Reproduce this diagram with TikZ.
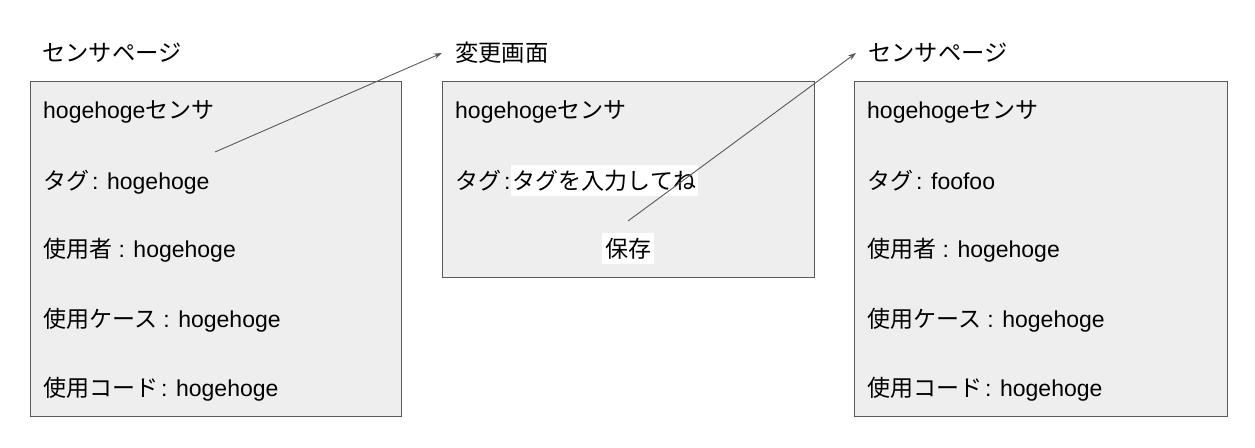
\documentclass[tikz,border=0pt]{standalone}
\usepackage{fontspec}
\setmainfont{Liberation Sans}
\newfontfamily\cjk{Noto Sans CJK JP}
\usetikzlibrary{arrows.meta}
\newcommand\jp[1]{{\cjk #1}}
\newcommand\nsp{\hspace{3pt}}
\definecolor{boxfill}{HTML}{EEEEEE}
\definecolor{boxline}{HTML}{595959}
\begin{document}
\begin{tikzpicture}[x=1pt,y=-1pt,
  font=\fontsize{23}{27}\selectfont,
  panel/.style={draw=boxline, fill=boxfill, line width=1pt, anchor=north west, inner sep=0pt},
  txt/.style={anchor=base west, inner sep=0pt},
  ttl/.style={anchor=base west, inner sep=0pt, font=\fontsize{23.3}{27}\selectfont},
  hl/.style={fill=white, inner xsep=1.5pt, inner ysep=5pt},
  conn/.style={draw=boxline, line width=0.9pt, -{Stealth[length=8pt,width=5.5pt]}}]
\useasboundingbox (0,0) rectangle (1255,447);
% panels
\node[panel, minimum width=371pt, minimum height=335pt] (b1) at (30,81) {};
\node[panel, minimum width=372pt, minimum height=196pt] (b2) at (442,81) {};
\node[panel, minimum width=373pt, minimum height=335pt] (b3) at (854,81) {};
% titles
\node[ttl] (h1) at (42,61) {\jp{センサページ}};
\node[ttl] (h2) at (455,61) {\jp{変更画面}};
\node[ttl] (h3) at (868,61) {\jp{センサページ}};
% panel 1
\node[txt] (p11) at (43,118) {hogehoge\jp{センサ}};
\node[txt] (p12) at (43,189) {\jp{タグ}\nsp: hogehoge};
\node[txt] (p13) at (43,257) {\jp{使用者} : hogehoge};
\node[txt] (p14) at (43,327) {\jp{使用ケース} : hogehoge};
\node[txt] (p15) at (43,396) {\jp{使用コード}\nsp: hogehoge};
% panel 2
\node[txt] (p21) at (455,118) {hogehoge\jp{センサ}};
\node[txt] (p22) at (455,189) {\jp{タグ}\nsp:};
\node[hl, anchor=base west] (p22b) at ([xshift=0.5pt]p22.base east) {\jp{タグを入力してね}};
\node[hl, inner xsep=3pt, anchor=base] (save) at (628,257) {\jp{保存}};
% panel 3
\node[txt] (p31) at (867,118) {hogehoge\jp{センサ}};
\node[txt] (p32) at (867,189) {\jp{タグ}\nsp: foofoo};
\node[txt] (p33) at (867,257) {\jp{使用者} : hogehoge};
\node[txt] (p34) at (867,327) {\jp{使用ケース} : hogehoge};
\node[txt] (p35) at (867,396) {\jp{使用コード}\nsp: hogehoge};
% connectors
\coordinate (a1s) at (215,152);
\coordinate (a1e) at (442,53);
\coordinate (a2s) at (628,221);
\coordinate (a2e) at (856,53);
\draw[conn] (a1s) -- (a1e);
\draw[conn] (a2s) -- (a2e);
\end{tikzpicture}
\end{document}
